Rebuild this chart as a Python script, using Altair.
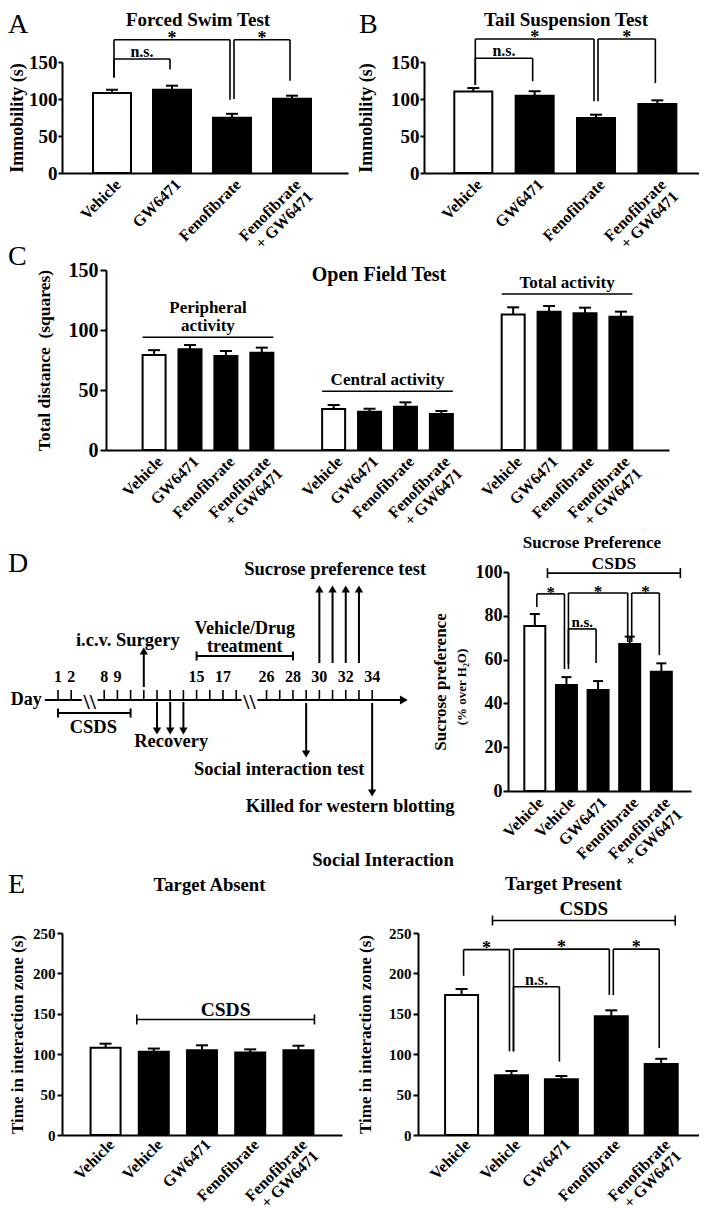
import json
import altair as alt
import pandas as pd

FONT = "Liberation Serif"

# ======================= data =======================
CATS_4 = ["Vehicle", "GW6471", "Fenofibrate", "Fenofibrate\n+ GW6471"]
CATS_5 = ["Vehicle", "Vehicle", "GW6471", "Fenofibrate", "Fenofibrate\n+ GW6471"]
GROUP_4 = ["control", "treated", "treated", "treated"]
GROUP_5 = ["control", "treated", "treated", "treated", "treated"]

# A  Forced Swim Test (immobility, s)
FST_MEAN = [108.0, 112.5, 74.5, 100.5]
FST_SEM = [4.5, 5.5, 5.5, 4.0]
FST_SIG = {"frm": [0, 0, 2], "to": [1, 2, 3], "top": [154, 180, 180],
           "left": [129, 129, 100], "right": [140, 99, 124.5], "txt": ["n.s.", "*", "*"]}

# B  Tail Suspension Test (immobility, s)
TST_MEAN = [110.3, 104.5, 74.3, 93.2]
TST_SEM = [4.5, 6.0, 4.5, 5.0]
TST_SIG = {"frm": [0, 0, 2], "to": [1, 2, 3], "top": [155, 181, 181],
           "left": [119, 119, 97], "right": [124, 97, 121.5], "txt": ["n.s.", "*", "*"]}

# C  Open Field Test (squares)
OFT_GROUPS = [["Peripheral", "activity"], "Central activity", "Total activity"]
OFT_MEAN = [[79.2, 83.9, 78.3, 81.1], [34.2, 31.9, 36.1, 30.0], [113.0, 115.3, 113.9, 111.1]]
OFT_SEM = [[4.0, 3.6, 4.2, 4.2], [3.3, 2.5, 3.6, 2.5], [5.9, 4.7, 4.7, 4.2]]
OFT_GROUP_LINE = [94, 49, 130]

# D  Sucrose preference (% over H2O)
SPT_MEAN = [75.3, 48.4, 46.1, 67.1, 54.4]
SPT_SEM = [5.5, 3.6, 4.1, 3.4, 3.9]
SPT_SIG = {"frm": [0, 1, 3, 1], "to": [1, 3, 4, 2], "top": [90, 90.4, 90.4, 74],
           "left": [84, 55.7, 68, 58], "right": [55.7, 68, 62, 58.4], "txt": ["*", "*", "*", "n.s."]}
SPT_CSDS = 99.5

# E  Social interaction, time in interaction zone (s)
SIA_MEAN = [108.0, 103.0, 105.0, 102.0, 105.0]
SIA_SEM = [5.0, 4.0, 6.0, 4.0, 5.5]
SIA_CSDS = 143
SIP_MEAN = [173.4, 73.9, 69.0, 147.0, 88.0]
SIP_SEM = [7.3, 5.3, 4.0, 7.3, 6.3]
SIP_SIG = {"frm": [0, 1, 3, 1], "to": [1, 3, 4, 2], "top": [229.4, 230, 230, 183.5],
           "left": [197, 103.5, 173, 103.5], "right": [103.5, 173.4, 107.5, 91], "txt": ["*", "*", "*", "n.s."]}
SIP_CSDS = 265.5

# D  experimental timeline (days)
TL_TICK_DAYS = [1, 2] + list(range(8, 19)) + list(range(26, 35))
TL_LABEL_DAYS = [1, 2, 8, 9, 15, 17, 26, 28, 30, 32, 34]
TL_SEGMENTS = [(0, 2.8), (7.5, 18.4), (25.3, 36.4)]
CSDS_DAYS = (1, 10)
TREAT_DAYS = (15, 28)
SURGERY_DAYS = [11]
RECOVERY_DAYS = [12, 13, 14]
SUCROSE_DAYS = [30, 31, 32, 33]
SOCIAL_DAYS = [29]
KILLED_DAYS = [34]

ONE = pd.DataFrame({"k": [0]})


def note(txt, x, y, size, weight="bold", align="center", baseline="middle", angle=None):
    kw = dict(font=FONT, fontSize=size, fontWeight=weight, align=align, baseline=baseline, color="black")
    if angle is not None:
        kw["angle"] = angle
    return alt.Chart(ONE).mark_text(**kw).encode(text=alt.value(txt), x=alt.value(x), y=alt.value(y))


def frame(top, bottom):
    """Invisible vertical extent that fixes how much room a row of panels takes."""
    return alt.Chart(ONE).mark_rule(strokeWidth=0, opacity=0).encode(
        x=alt.value(0), y=alt.value(top), y2=alt.value(bottom))


def bar_panel(labels, slots, groups, means, sems, *, width, height, ymax, yticks, ytitle,
              xdomain, bar_w, cap_w, tick_font, title_font, tick_len, label_pad, title_pad,
              xlabel_pad=3, xlabel_lh=17, yrange=None, sig=None, sig_star=18, sig_ns=16,
              csds=None, bands=None, extras=()):
    xs = alt.Scale(domain=xdomain, nice=False, zero=False)
    if yrange is None:
        ys = alt.Scale(domain=[0, ymax], nice=False, zero=True)
    else:
        ys = alt.Scale(domain=[0, ymax], nice=False, zero=True, range=yrange)

    def X(f, **k):
        return alt.X(f, type="quantitative", scale=xs, **k)

    def Y(f, **k):
        return alt.Y(f, type="quantitative", scale=ys, **k)

    lab = [""] * (max(slots) + 1)
    for s, l in zip(slots, labels):
        lab[s] = l.split("\n") if "\n" in l else l
    xaxis = alt.Axis(values=slots, tickCount=len(slots), labelExpr=json.dumps(lab) + "[datum.value]",
                     title=None, ticks=False, tickSize=0, labelAngle=-45, labelAlign="right",
                     labelBaseline="top", labelPadding=xlabel_pad, labelFontSize=16, labelLineHeight=xlabel_lh,
                     labelOverlap=False, labelFlush=False, labelBound=False, grid=False)
    yaxis = alt.Axis(values=yticks, tickCount=len(yticks), title=ytitle, titleFontSize=title_font,
                     labelFontSize=tick_font, tickSize=tick_len, labelPadding=label_pad, titlePadding=title_pad,
                     grid=False, format="d", labelOverlap=False, labelFlush=False)
    df = pd.DataFrame({"slot": slots, "mean": means,
                       "top": [m + s for m, s in zip(means, sems)], "grp": groups})
    layers = [
        alt.Chart(df).mark_bar(width=bar_w, stroke="black", strokeWidth=2, orient="vertical").encode(
            x=X("slot", axis=xaxis), y=Y("mean", axis=yaxis),
            fill=alt.Fill("grp:N", scale=alt.Scale(domain=["control", "treated"], range=["white", "black"]),
                          legend=None)),
        alt.Chart(df).mark_rule(strokeWidth=2, color="black").encode(
            x=X("slot"), y=Y("mean"), y2="top:Q"),
        alt.Chart(df).mark_rule(strokeWidth=2, color="black", xOffset=-cap_w / 2, x2Offset=cap_w / 2).encode(
            x=X("slot"), x2="slot:Q", y=Y("top")),
    ]
    br = dict(strokeWidth=1.6, color="black")
    if sig:
        sdf = pd.DataFrame(sig)
        sdf["mid"] = (sdf["frm"] + sdf["to"]) / 2
        layers += [
            alt.Chart(sdf).mark_rule(xOffset=2, x2Offset=-2, **br).encode(
                x=X("frm"), x2="to:Q", y=Y("top")),
            alt.Chart(sdf).mark_rule(xOffset=2, **br).encode(
                x=X("frm"), y=Y("top"), y2="left:Q"),
            alt.Chart(sdf).mark_rule(xOffset=-2, **br).encode(
                x=X("to"), y=Y("top"), y2="right:Q"),
            alt.Chart(sdf).transform_filter("datum.txt == '*'").mark_text(
                font=FONT, fontSize=sig_star, fontWeight="bold", baseline="alphabetic", dy=4).encode(
                x=X("mid"), y=Y("top"), text="txt:N"),
            alt.Chart(sdf).transform_filter("datum.txt != '*'").mark_text(
                font=FONT, fontSize=sig_ns, fontWeight="bold", baseline="alphabetic", dy=-2).encode(
                x=X("mid"), y=Y("top"), text="txt:N"),
        ]
    if csds:
        a, b = csds["pad_l"], csds["pad_r"]
        cdf = pd.DataFrame({"frm": [csds["frm"]], "to": [csds["to"]], "y": [csds["y"]],
                            "mid": [(csds["frm"] + csds["to"]) / 2], "txt": ["CSDS"]})
        layers += [
            alt.Chart(cdf).mark_rule(xOffset=-a, x2Offset=b, **br).encode(
                x=X("frm"), x2="to:Q", y=Y("y")),
            alt.Chart(cdf).mark_rule(xOffset=-a, yOffset=-5, y2Offset=5, **br).encode(
                x=X("frm"), y=Y("y"), y2="y:Q"),
            alt.Chart(cdf).mark_rule(xOffset=b, yOffset=-5, y2Offset=5, **br).encode(
                x=X("to"), y=Y("y"), y2="y:Q"),
            alt.Chart(cdf).mark_text(font=FONT, fontSize=csds["size"], fontWeight="bold",
                                     baseline="alphabetic", dx=(b - a) / 2, dy=-csds["gap"]).encode(
                x=X("mid"), y=Y("y"), text="txt:N"),
        ]
    if bands:
        gdf = pd.DataFrame(bands)
        gdf["mid"] = (gdf["first"] + gdf["last"]) / 2
        gdf["lines"] = [len(l) if isinstance(l, list) else 1 for l in gdf["label"]]
        layers.append(alt.Chart(gdf).mark_rule(xOffset=-bar_w / 2, x2Offset=bar_w / 2, **br).encode(
            x=X("first"), x2="last:Q", y=Y("y")))
        for n in sorted(set(gdf["lines"])):
            layers.append(alt.Chart(gdf).transform_filter(f"datum.lines == {n}").mark_text(
                font=FONT, fontSize=17, fontWeight="bold", baseline="alphabetic",
                lineHeight=18, dy=-6 - 18 * (n - 1)).encode(
                x=X("mid"), y=Y("y"), text="label:N"))
    layers += list(extras)
    return alt.layer(*layers).properties(width=width, height=height)


# ---------------- A and B ----------------
chart_a = bar_panel(CATS_4, [0, 1, 2, 3], GROUP_4, FST_MEAN, FST_SEM, width=286, height=111, ymax=150,
                    yticks=[0, 50, 100, 150], ytitle="Immobility (s)", xdomain=[-0.75, 3.85], bar_w=38,
                    cap_w=12, tick_font=19, title_font=18, tick_len=4, label_pad=1, title_pad=2, sig=FST_SIG,
                    extras=[note("A", -54, -37, 28, weight="normal", align="left"),
                            note("Forced Swim Test", 136, -42.5, 19),
                            frame(-54, 225)])
chart_b = bar_panel(CATS_4, [0, 1, 2, 3], GROUP_4, TST_MEAN, TST_SEM, width=275, height=111, ymax=150,
                    yticks=[0, 50, 100, 150], ytitle="Immobility (s)", xdomain=[-0.722, 3.597], bar_w=38,
                    cap_w=12, tick_font=19, title_font=18, tick_len=4, label_pad=1, title_pad=15, sig=TST_SIG,
                    extras=[note("B", -65, -37, 28, weight="normal", align="left"),
                            note("Tail Suspension Test", 142, -42.5, 19)])

# ---------------- C ----------------
# the panel starts 17 px below the top of its value axis (the x labels of A/B reach into that band)
C_SHIFT = 17
oft_slots, oft_labels, oft_group, oft_mean, oft_sem = [], [], [], [], []
for g in range(3):
    for t in range(4):
        oft_slots.append(g * 5 + t)
        oft_labels.append(CATS_4[t])
        oft_group.append(GROUP_4[t])
        oft_mean.append(OFT_MEAN[g][t])
        oft_sem.append(OFT_SEM[g][t])
bands = {"first": [g * 5 for g in range(3)], "last": [g * 5 + 3 for g in range(3)],
         "y": OFT_GROUP_LINE, "label": OFT_GROUPS}
chart_c = bar_panel(oft_labels, oft_slots, oft_group, oft_mean, oft_sem, width=563, height=180 - C_SHIFT,
                    ymax=150, yrange=[180 - C_SHIFT, -C_SHIFT],
                    yticks=[0, 50, 100, 150], ytitle="Total distance\u00a0 (squares)", xdomain=[-1.2, 14.2],
                    bar_w=23, cap_w=12, tick_font=20, title_font=17.5, tick_len=6, label_pad=2, title_pad=15,
                    bands=bands,
                    extras=[note("C", -98, -13.5 - C_SHIFT, 28, weight="normal", align="left"),
                            note("Open Field Test", 273, 5 - C_SHIFT, 20),
                            frame(-60, 285)])

# ---------------- D timeline ----------------
TL_W, TL_H = 426, 219
TL_UNIT = 13.2


def tl_pos(day):
    """Compressed timeline position (the axis is broken after day 2 and after day 18)."""
    if day <= 2.8:
        return day - 1
    if day <= 18.4:
        return day - 4.5
    return day - 10.2


xs_tl = alt.Scale(domain=[4 / TL_UNIT, 4 / TL_UNIT + TL_W / TL_UNIT], nice=False, zero=False)


def TX(f):
    return alt.X(f, type="quantitative", scale=xs_tl, axis=None)


Y_AXIS = 128


def tl_text(txt, p, y, size=18.5, dx=0, line_height=None):
    kw = dict(font=FONT, fontSize=size, fontWeight="bold", baseline="middle", dx=dx, color="black")
    if line_height:
        kw["lineHeight"] = line_height
    return alt.Chart(pd.DataFrame({"p": [p]})).mark_text(**kw).encode(
        x=TX("p"), y=alt.value(y), text=alt.value(txt))


def tl_arrows(days, y_from, y_tip):
    df = pd.DataFrame({"p": [tl_pos(d) for d in days]})
    up = y_tip < y_from
    head_y = y_tip + 4 if up else y_tip - 4
    return [
        alt.Chart(df).mark_rule(strokeWidth=2, color="black").encode(
            x=TX("p"), y=alt.value(y_from), y2=alt.value(head_y)),
        alt.Chart(df).mark_point(shape="triangle-up" if up else "triangle-down", filled=True, size=70,
                                 opacity=1, color="black").encode(x=TX("p"), y=alt.value(head_y)),
    ]


def tl_bracket(d0, d1, y):
    ends = pd.DataFrame({"p": [tl_pos(d0), tl_pos(d1)]})
    return [
        alt.Chart(pd.DataFrame({"p0": [tl_pos(d0)], "p1": [tl_pos(d1)]})).mark_rule(
            strokeWidth=2, color="black").encode(x=TX("p0"), x2="p1:Q", y=alt.value(y)),
        alt.Chart(ends).mark_rule(strokeWidth=2, color="black").encode(
            x=TX("p"), y=alt.value(y - 4.5), y2=alt.value(y + 4.5)),
    ]


seg_df = pd.DataFrame({"p0": [tl_pos(a) for a, b in TL_SEGMENTS], "p1": [tl_pos(b) for a, b in TL_SEGMENTS]})
tick_df = pd.DataFrame({"p": [tl_pos(d) for d in TL_TICK_DAYS]})
lbl_df = pd.DataFrame({"p": [tl_pos(d) for d in TL_LABEL_DAYS], "t": [str(d) for d in TL_LABEL_DAYS]})
brk_df = pd.DataFrame({"p": [(tl_pos(TL_SEGMENTS[i][1]) + tl_pos(TL_SEGMENTS[i + 1][0])) / 2 for i in range(2)]})
end_df = pd.DataFrame({"p": [tl_pos(TL_SEGMENTS[-1][1])]})
start_df = pd.DataFrame({"p": [tl_pos(TL_SEGMENTS[0][0])]})

tl_layers = [
    alt.Chart(seg_df).mark_rule(strokeWidth=2, color="black").encode(x=TX("p0"), x2="p1:Q", y=alt.value(Y_AXIS)),
    alt.Chart(tick_df).mark_rule(strokeWidth=1.6, color="black").encode(
        x=TX("p"), y=alt.value(Y_AXIS - 10), y2=alt.value(Y_AXIS)),
    alt.Chart(lbl_df).mark_text(font=FONT, fontSize=16, fontWeight="bold", baseline="middle", color="black").encode(
        x=TX("p"), y=alt.value(105), text="t:N"),
    alt.Chart(brk_df).mark_text(font=FONT, fontSize=22, fontWeight="bold", baseline="middle", color="black").encode(
        x=TX("p"), y=alt.value(Y_AXIS + 2), text=alt.value("\\\\")),
    alt.Chart(start_df).mark_text(font=FONT, fontSize=18, fontWeight="bold", baseline="middle", align="right",
                                  dx=-3, color="black").encode(x=TX("p"), y=alt.value(Y_AXIS), text=alt.value("Day")),
    alt.Chart(end_df).mark_point(shape="triangle-right", filled=True, size=80, opacity=1, color="black").encode(
        x=TX("p"), y=alt.value(Y_AXIS)),
]
tl_layers += tl_bracket(*CSDS_DAYS, 141)
tl_layers.append(tl_text("CSDS", (tl_pos(CSDS_DAYS[0]) + tl_pos(CSDS_DAYS[1])) / 2, 155, dx=-1))
tl_layers += tl_bracket(*TREAT_DAYS, 84)
treat_mid = (tl_pos(TREAT_DAYS[0]) + tl_pos(TREAT_DAYS[1])) / 2
tl_layers.append(tl_text(["Vehicle/Drug", "treatment"], treat_mid, 57, size=18, line_height=18))
tl_layers += tl_arrows(SURGERY_DAYS, 115, 75)
tl_layers.append(tl_text("i.c.v. Surgery", tl_pos(SURGERY_DAYS[0]), 68, dx=-16))
tl_layers += tl_arrows(RECOVERY_DAYS, 130, 163)
tl_layers.append(tl_text("Recovery", tl_pos(RECOVERY_DAYS[1]), 169, dx=1))
tl_layers += tl_arrows(SUCROSE_DAYS, 91, 13)
tl_layers.append(tl_text("Sucrose preference test",
                         sum(tl_pos(d) for d in SUCROSE_DAYS) / len(SUCROSE_DAYS), -3, dx=-4))
tl_layers += tl_arrows(SOCIAL_DAYS, 131, 186)
tl_layers.append(tl_text("Social interaction test", tl_pos(SOCIAL_DAYS[0]), 197, dx=-27))
tl_layers += tl_arrows(KILLED_DAYS, 131, 225)
tl_layers.append(tl_text("Killed for western blotting", tl_pos(KILLED_DAYS[0]), 234, dx=-22))
tl_layers.append(note("D", -54, -8, 28, weight="normal", align="left"))
tl_layers.append(frame(-45, 361))
timeline = alt.layer(*tl_layers).properties(width=TL_W, height=TL_H)

# ---------------- D sucrose preference ----------------
chart_d = bar_panel(CATS_5, [0, 1, 2, 3, 4], GROUP_5, SPT_MEAN, SPT_SEM, width=183, height=219, ymax=100,
                    yticks=[0, 20, 40, 60, 80, 100], ytitle="Sucrose preference", xdomain=[-0.69, 4.78],
                    bar_w=21, cap_w=10, tick_font=18, title_font=17, tick_len=5, label_pad=1, title_pad=26,
                    sig=SPT_SIG, sig_star=17, sig_ns=15,
                    csds={"frm": 1, "to": 4, "y": SPT_CSDS, "pad_l": 19, "pad_r": 19, "size": 17.5, "gap": 4},
                    extras=[note("Sucrose Preference", 84, -29.5, 17),
                            note("(% over H\u2082O)", -46, 115, 13, angle=270)])

# ---------------- E ----------------
chart_ea = bar_panel(CATS_5, [0, 1, 2, 3, 4], GROUP_5, SIA_MEAN, SIA_SEM, width=280, height=202, ymax=250,
                     yticks=[0, 50, 100, 150, 200, 250], ytitle="Time in interaction zone (s)",
                     xdomain=[-0.8, 4.8], bar_w=30, cap_w=12, tick_font=15, title_font=17, tick_len=5,
                     label_pad=2, title_pad=6, xlabel_pad=1, xlabel_lh=16,
                     csds={"frm": 1, "to": 4, "y": SIA_CSDS, "pad_l": 17, "pad_r": 16, "size": 19.5, "gap": 3},
                     extras=[note("E", -54, -48, 28, weight="normal", align="left"),
                             note("Target Absent", 147.5, -48, 18.7),
                             note("Social Interaction", 321, -73, 18.7),
                             frame(-90, 210)])
chart_ep = bar_panel(CATS_5, [0, 1, 2, 3, 4], GROUP_5, SIP_MEAN, SIP_SEM, width=281, height=202, ymax=250,
                     yticks=[0, 50, 100, 150, 200, 250], ytitle="Time in interaction zone (s)",
                     xdomain=[-0.773, 4.657], bar_w=33, cap_w=12, tick_font=15, title_font=17, tick_len=5,
                     label_pad=2, title_pad=14, xlabel_pad=1, xlabel_lh=16, sig=SIP_SIG, sig_star=18, sig_ns=16,
                     csds={"frm": 1, "to": 4, "y": SIP_CSDS, "pad_l": 19, "pad_r": 14, "size": 19, "gap": 5},
                     extras=[note("Target Present", 145.5, -49.5, 18.7)])


# ---------------- layout ----------------
def spacer(w, h):
    return alt.Chart(ONE).mark_point(size=1, opacity=0).encode(
        x=alt.value(0), y=alt.value(0)).properties(width=w, height=h)


row1 = alt.hconcat(chart_a, chart_b, spacing=76, bounds="flush")
row2 = alt.hconcat(spacer(44, 1), chart_c, spacing=0, bounds="flush")
row3 = alt.hconcat(timeline, chart_d, spacing=20, bounds="flush")
row4 = alt.hconcat(chart_ea, chart_ep, spacing=76, bounds="flush")

# rows are stacked by the bottom of their invisible frames (a very negative spacing removes any extra gap)
chart = alt.vconcat(row1, row2, row3, row4, spacing=-300, padding=0).configure_view(
    strokeWidth=0).configure_axis(
    labelFont=FONT, titleFont=FONT, labelFontWeight="bold", titleFontWeight="bold",
    labelColor="black", titleColor="black", domainColor="black", tickColor="black",
    domainWidth=2, tickWidth=2, grid=False,
).configure_text(font=FONT, color="black")

chart.save("out.html", embed_options={"renderer": "svg", "actions": False})
